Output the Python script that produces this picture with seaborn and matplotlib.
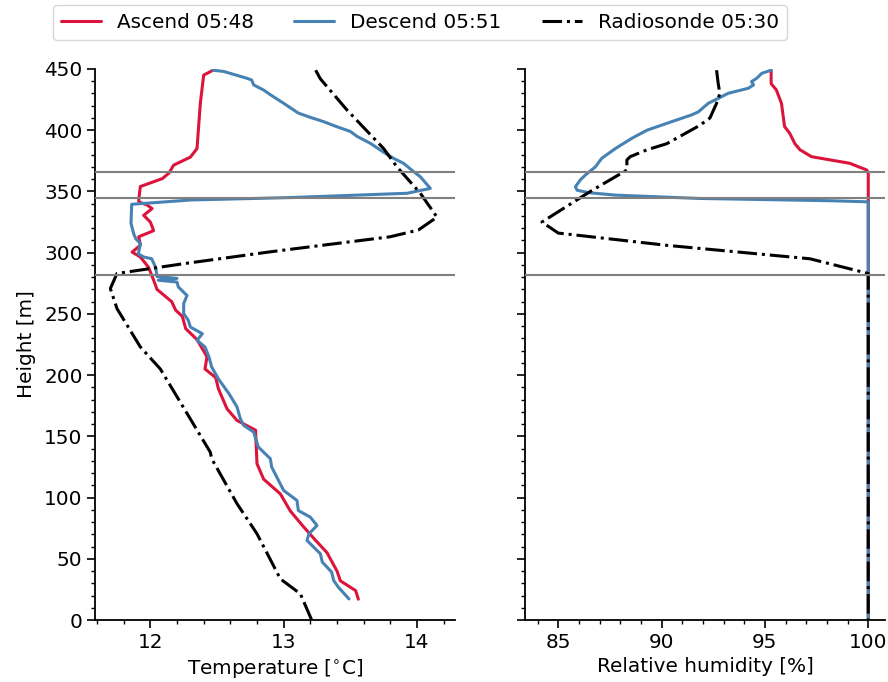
import matplotlib
matplotlib.use("Agg")
import matplotlib.pyplot as plt
import seaborn as sns
from matplotlib.ticker import MultipleLocator

# ---------------- data ----------------
asc_t_height = [449, 445, 422, 385, 378, 371.5, 365, 360.5, 354, 343, 341.5, 339, 336,
                330.5, 325, 318, 313, 306, 300.5, 296.5, 288, 277.5, 270, 260, 253, 248,
                238, 229, 215, 205, 198, 189, 172.5, 163, 155, 152, 127.6, 115, 103, 89,
                76, 65, 55, 40, 32, 24, 17]
asc_temp = [12.47, 12.40, 12.375, 12.35, 12.30, 12.175, 12.14, 12.09, 11.925, 11.913,
            11.913, 11.975, 12.013, 11.95, 12.0, 12.025, 11.913, 11.925, 11.863, 11.925,
            11.987, 12.025, 12.05, 12.16, 12.19, 12.24, 12.265, 12.35, 12.425, 12.41,
            12.49, 12.51, 12.575, 12.65, 12.79, 12.79, 12.8, 12.85, 12.975, 13.05,
            13.15, 13.24, 13.325, 13.4, 13.425, 13.54, 13.56]

desc_t_height = [449, 448, 442.4, 441, 437, 432.8, 429, 422, 414, 410.5, 407, 402.8, 399,
                 395, 389.3, 382, 377, 372.9, 367.5, 362, 352.5,
                 348.5, 345, 343, 339.5, 324, 315.5, 311.5, 307.5, 299, 296.5, 295, 288,
                 280.5, 279, 277.5, 276, 272, 265, 258.4, 250.2, 244.7, 239.3, 233.8,
                 228.4, 223, 214.7, 206.6, 197, 184.8, 174, 164.4, 159, 153.5, 141.3,
                 131.7, 124.9, 105.8, 97.6, 89.4, 84, 77.2, 70.4, 65, 54.1, 47.3, 39.1,
                 32.3, 26.8, 17.2]
desc_temp = [12.47, 12.55, 12.725, 12.76, 12.775, 12.85, 12.9, 13.0, 13.11, 13.2, 13.3,
             13.4, 13.5, 13.55, 13.65, 13.75, 13.825, 13.9,
             13.96, 14.025, 14.1, 13.925, 13.05, 12.3, 11.86, 11.855, 11.875, 11.89,
             11.925, 11.91, 11.95, 12.01, 12.04, 12.05, 12.2, 12.06, 12.2, 12.21,
             12.275, 12.25, 12.25, 12.285, 12.3, 12.39, 12.35, 12.41, 12.44, 12.46,
             12.51, 12.59, 12.65, 12.675, 12.7, 12.775, 12.81, 12.9, 12.91, 13.0, 13.1,
             13.11, 13.2, 13.25, 13.19, 13.175, 13.275, 13.29, 13.36, 13.375, 13.41,
             13.49]

sonde_t_height = [449, 442, 416.5, 385, 370, 348.5, 329, 318.5, 313, 300.7, 291, 283,
                  270.7, 254.3, 223, 205, 137, 131.7, 95, 70.4, 33.6, 21.4, 0]
sonde_temp = [13.24, 13.275, 13.475, 13.75, 13.85, 14.025, 14.15, 14.01, 13.8, 12.9,
              12.25, 11.75, 11.7, 11.75, 11.925, 12.075, 12.45, 12.46, 12.65, 12.8,
              12.975, 13.125, 13.21]

asc_rh_height = [449, 438, 433, 422, 403, 397.5, 389, 384, 378.4, 373, 367.5, 364.7, 0]
asc_rh = [95.3, 95.3, 95.55, 95.8, 95.95, 96.2, 96.45, 96.7, 97.25, 99.1, 99.93, 100, 100]

desc_rh_height = [449, 446.5, 442.4, 439.7, 437, 434.3, 430.2, 426, 422, 415, 412.5, 407,
                  400, 393.4, 385, 377, 370, 363.4, 359.3, 353.8, 351, 349, 347, 344.3,
                  342.4, 341.5, 0]
desc_rh = [95.3, 94.85, 94.6, 94.35, 94.45, 94.2, 93.23, 92.74, 92.26, 91.78, 91.45,
           90.49, 89.29, 88.56, 87.76, 87.1, 86.79, 86.31, 86.06, 85.83, 85.91, 86.47,
           87.76, 91.78, 98.22, 100, 100]

sonde_rh_height = [449, 438, 430, 422, 410, 404, 389, 384, 378.4, 375.7, 367.5, 350, 325,
                   316, 306, 295, 283, 0]
sonde_rh = [92.66, 92.74, 92.82, 92.66, 92.34, 91.85, 90.25, 89.29, 88.48, 88.32, 88.32,
            86.55, 84.21, 85.0, 90.25, 97.18, 100, 100]

layer_heights = [366, 345, 282]

labels = ["Ascend 05:48", "Descend 05:51", "Radiosonde 05:30"]
colors = ["#DC143C", "#4682B4", "black"]
styles = ["-", "-", "-."]

# ---------------- style ----------------
sns.set_style("ticks")
plt.rcParams["font.family"] = ["DejaVu Sans"]
FS = 14.4
plt.rcParams.update({
    "font.size": FS,
    "axes.labelsize": FS,
    "xtick.labelsize": FS,
    "ytick.labelsize": FS,
    "legend.fontsize": FS,
    "text.color": "black",
    "axes.labelcolor": "black",
    "axes.edgecolor": "black",
    "axes.linewidth": 1.3,
    "xtick.color": "black",
    "ytick.color": "black",
    "xtick.major.size": 5.5,
    "ytick.major.size": 5.5,
    "xtick.minor.size": 3.0,
    "ytick.minor.size": 3.0,
    "xtick.major.width": 1.2,
    "ytick.major.width": 1.2,
    "xtick.minor.width": 1.0,
    "ytick.minor.width": 1.0,
})

fig = plt.figure(figsize=(8.88, 6.82), dpi=100)
ax1 = fig.add_axes([95 / 888, 62 / 682, 360 / 888, 551 / 682])
ax2 = fig.add_axes([525 / 888, 62 / 682, 360 / 888, 551 / 682], sharey=ax1)

temp_sets = [(asc_temp, asc_t_height), (desc_temp, desc_t_height), (sonde_temp, sonde_t_height)]
rh_sets = [(asc_rh, asc_rh_height), (desc_rh, desc_rh_height), (sonde_rh, sonde_rh_height)]

for (x, y), lab, c, ls in zip(temp_sets, labels, colors, styles):
    sns.lineplot(x=x, y=y, ax=ax1, sort=False, estimator=None, orient="y",
                 color=c, linestyle=ls, linewidth=2.2, label=lab)
for (x, y), lab, c, ls in zip(rh_sets, labels, colors, styles):
    sns.lineplot(x=x, y=y, ax=ax2, sort=False, estimator=None, orient="y",
                 color=c, linestyle=ls, linewidth=2.2, label=lab)

for ax in (ax1, ax2):
    for h in layer_heights:
        ax.axhline(h, color="grey", linewidth=1.5, zorder=5)
    ax.yaxis.set_major_locator(MultipleLocator(50))
    ax.yaxis.set_minor_locator(MultipleLocator(10))
    ax.set_ylim(0, 450)

ax1.set_xlim(11.585, 14.285)
ax1.xaxis.set_major_locator(MultipleLocator(1))
ax1.xaxis.set_minor_locator(MultipleLocator(0.2))
ax2.set_xlim(83.39, 100.81)
ax2.xaxis.set_major_locator(MultipleLocator(5))
ax2.xaxis.set_minor_locator(MultipleLocator(1))
ax2.tick_params(axis="y", labelleft=False)

ax1.set_xlabel(r"Temperature [$^{\circ}$C]")
ax1.set_ylabel("Height [m]", labelpad=6)
ax2.set_xlabel("Relative humidity [%]")
ax2.set_ylabel("")

handles, labs = ax1.get_legend_handles_labels()
ax1.get_legend().remove()
ax2.get_legend().remove()

sns.despine(fig=fig)

fig.legend(handles, labs, loc="upper center", bbox_to_anchor=(0.473, 1.007), ncol=3,
           frameon=True, edgecolor="0.8", fancybox=True, columnspacing=2.0)

fig.savefig("out.png", dpi=100)
